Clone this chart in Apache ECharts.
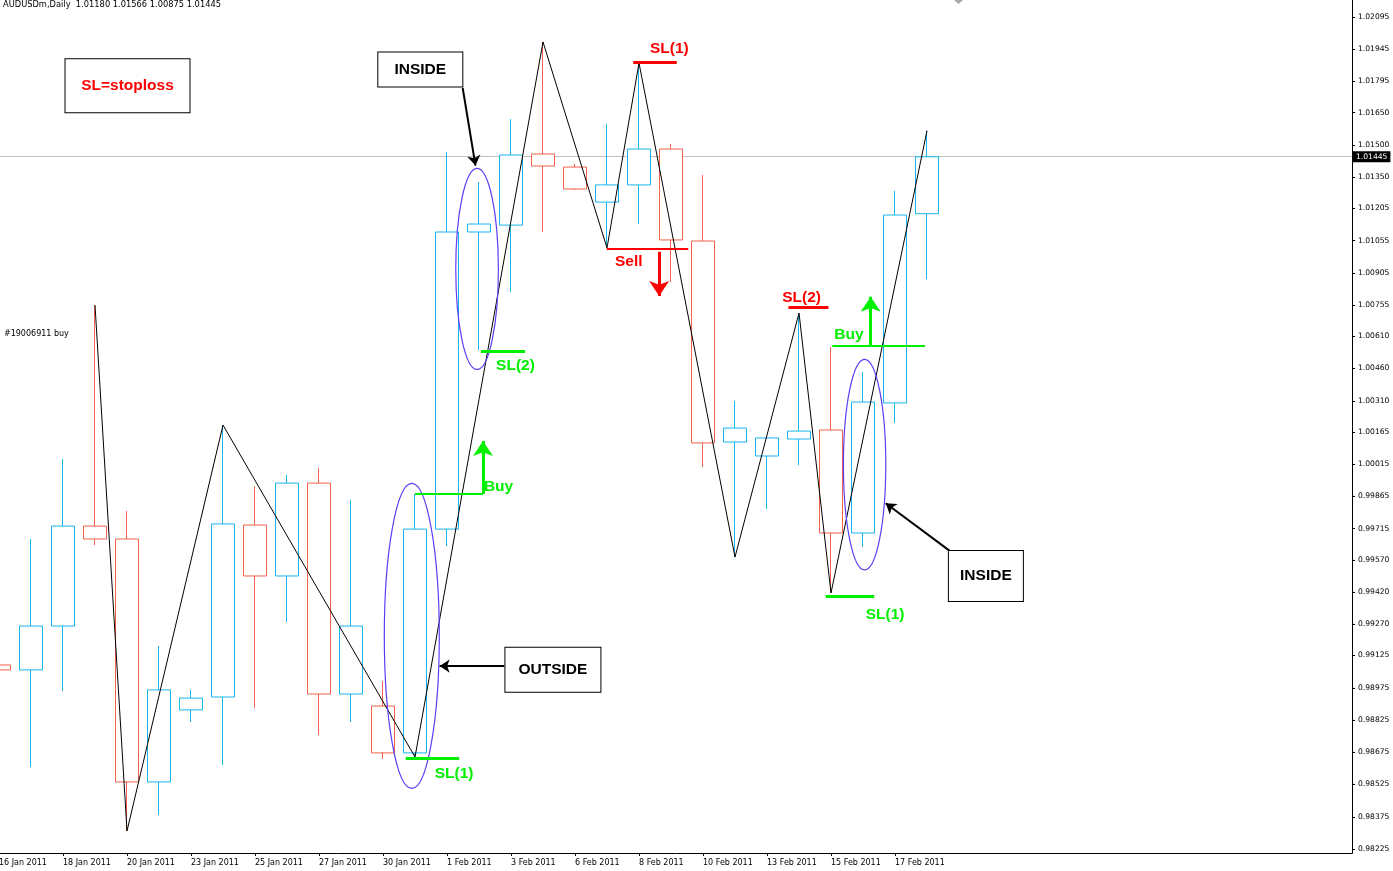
<!DOCTYPE html>
<html>
<head>
<meta charset="utf-8">
<script src="https://cdn.jsdelivr.net/npm/echarts@6/dist/echarts.min.js"></script>
<style>
html, body { margin: 0; padding: 0; background: #fff; }
#main { width: 1393px; height: 871px; }
</style>
</head>
<body>
<div id="main"></div>
<script>
// AUDUSDm daily bars, 16 Jan - 18 Feb 2011
const dates = ['16 Jan 2011', '17 Jan 2011', '18 Jan 2011', '19 Jan 2011', '20 Jan 2011', '21 Jan 2011',
    '23 Jan 2011', '24 Jan 2011', '25 Jan 2011', '26 Jan 2011', '27 Jan 2011', '28 Jan 2011',
    '30 Jan 2011', '31 Jan 2011', '1 Feb 2011', '2 Feb 2011', '3 Feb 2011', '4 Feb 2011',
    '6 Feb 2011', '7 Feb 2011', '8 Feb 2011', '9 Feb 2011', '10 Feb 2011', '11 Feb 2011',
    '13 Feb 2011', '14 Feb 2011', '15 Feb 2011', '16 Feb 2011', '17 Feb 2011', '18 Feb 2011'];
const opens = [0.99081, 0.99058, 0.99262, 0.99727, 0.99667, 0.98537, 0.98872, 0.98932, 0.99732, 0.99495,
    0.99927, 0.98946, 0.98890, 0.98672, 0.99713, 1.01095, 1.01127, 1.01458, 1.01397, 1.01234,
    1.01314, 1.01481, 1.01053, 1.00118, 1.00053, 1.00132, 1.00174, 0.99695, 1.00300, 1.01180];
const highs = [0.99095, 0.99667, 1.00039, 1.00755, 0.99797, 0.99169, 0.98965, 1.00197, 0.99913, 0.99965,
    0.99997, 0.99848, 0.99006, 0.99876, 1.01467, 1.01327, 1.01620, 1.01979, 1.01411, 1.01597,
    1.01881, 1.01504, 1.01360, 1.00309, 1.00140, 1.00718, 1.00560, 1.00444, 1.01286, 1.01566];
const lows = [0.99044, 0.98606, 0.98960, 0.99639, 0.98309, 0.98383, 0.98816, 0.98616, 0.98881, 0.99281,
    0.98755, 0.98816, 0.98644, 0.98653, 0.99634, 1.00546, 1.00816, 1.01095, 1.01290, 1.01021,
    1.01132, 1.00862, 1.00002, 0.99583, 0.99807, 1.00011, 0.99416, 0.99630, 1.00207, 1.00875];
const closes = [0.99058, 0.99262, 0.99727, 0.99667, 0.98537, 0.98965, 0.98927, 0.99737, 0.99495, 0.99927,
    0.98946, 0.99262, 0.98672, 0.99713, 1.01095, 1.01132, 1.01453, 1.01402, 1.01295, 1.01314,
    1.01481, 1.01058, 1.00114, 1.00183, 1.00137, 1.00169, 0.99695, 1.00304, 1.01174, 1.01445];

const priceTicks = ['1.02095', '1.01945', '1.01795', '1.01650', '1.01500', '1.01350', '1.01205', '1.01055',
    '1.00905', '1.00755', '1.00610', '1.00460', '1.00310', '1.00165', '1.00015', '0.99865', '0.99715',
    '0.99570', '0.99420', '0.99270', '0.99125', '0.98975', '0.98825', '0.98675', '0.98525', '0.98375', '0.98225'];
const dateTicks = [0, 2, 4, 6, 8, 10, 12, 14, 16, 18, 20, 22, 24, 26, 28];
const bidPrice = 1.01445;

// zigzag turning bars and whether the turn is at the high or the low
const zigzagBars = [3, 4, 7, 13, 17, 19, 20, 23, 25, 26, 29];
const zigzagSide = ['H', 'L', 'H', 'L', 'H', 'L', 'H', 'L', 'H', 'L', 'H'];

// hand drawn objects, in bar index / price units
const greenLevels = [[15.06, 16.44, 1.00541], [13.0, 15.125, 0.99876], [12.71, 14.38, 0.98645],
    [26.04, 28.94, 1.00568], [25.83, 27.35, 0.99402]];
const redLevels = [[19.82, 21.18, 1.01884], [18.99, 21.54, 1.01017], [24.67, 25.92, 1.00743]];
const greenArrows = [[15.125, 0.99876, 15.125, 1.00123], [27.24, 1.00569, 27.24, 1.00794]];
const redArrows = [[20.63, 1.01003, 20.63, 1.00797]];
const blackArrows = [[14.49, 1.01765, 14.89, 1.01404], [15.79, 0.99076, 13.77, 0.99076],
    [29.70, 0.99613, 27.71, 0.99833]];
const ellipses = [[12.90, 0.99216, 0.859, 0.007093], [14.94, 1.00923, 0.666, 0.004675],
    [27.05, 1.00013, 0.6625, 0.004898]];
const greenTexts = [[16.14, 1.00474, 'SL(2)'], [15.61, 0.99909, 'Buy'], [14.22, 0.98575, 'SL(1)'],
    [26.56, 1.00619, 'Buy'], [27.69, 0.99313, 'SL(1)']];
const redTexts = [[20.95, 1.01946, 'SL(1)'], [19.68, 1.00957, 'Sell'], [25.08, 1.00791, 'SL(2)']];
const boxTexts = [[4.016, 1.01775, 'SL=stoploss'], [13.166, 1.01851, 'INSIDE'],
    [17.31, 0.99059, 'OUTSIDE'], [30.84, 0.99495, 'INSIDE']];
const orderText = [[0.156, 1.00620, '#19006911 buy']];

const UP = '#17b5ee', DOWN = '#f4614a', GREEN = '#00f000', RED = '#ff0000', RING = '#5b3ff5';
const AXIS_FONT = 'DejaVu Sans';
const NOTE_FONT = 'Liberation Sans';
const X_MAX = 42.28125;

let candles = dates.map((d, i) => [i, opens[i], closes[i], lows[i], highs[i]]);
let zigzag = zigzagBars.map((b, i) => [b, zigzagSide[i] === 'H' ? highs[b] : lows[b]]);

let greenLevelWidth = [3, 2, 3, 2, 3];
let redLevelWidth = [3, 2, 3];
let boxStyle = [
    {w: 124, h: 53, color: '#ff0000'},
    {w: 84, h: 34, color: '#000'},
    {w: 95, h: 44, color: '#000'},
    {w: 74, h: 50, color: '#000'}
];

function arrowData(list) {
    return list.map(a => ({coords: [[a[0], a[1]], [a[2], a[3]]]}));
}
function textSeries(list, color, label) {
    return {
        type: 'scatter',
        symbolSize: 0,
        silent: true,
        clip: false,
        z: 10,
        data: list,
        itemStyle: {opacity: 1},
        label: Object.assign({
            show: true,
            position: 'inside',
            formatter: p => (p.data.value || p.data)[2],
            color: color,
            opacity: 1,
            textBorderWidth: 0,
            fontFamily: NOTE_FONT,
            fontWeight: 'bold',
            fontSize: 15.5
        }, label || {})
    };
}

var myChart = echarts.init(document.getElementById('main'));
option = {
    animation: false,
    backgroundColor: '#fff',
    grid: {left: -1, right: 41, top: 0, bottom: 18, containLabel: false, outerBoundsMode: 'none'},
    graphic: [
        {
            type: 'text', left: 3, top: 1,
            style: {text: 'AUDUSDm,Daily  1.01180 1.01566 1.00875 1.01445', fill: '#000', font: '8.3px "DejaVu Sans"'}
        },
        {
            // chart shift marker
            type: 'polygon',
            shape: {points: [[954, 0], [963, 0], [958.5, 4]]},
            style: {fill: '#a8a8a8'}
        }
    ],
    xAxis: {
        type: 'value',
        min: 0,
        max: X_MAX,
        splitLine: {show: false},
        axisLine: {show: true, onZero: false, lineStyle: {color: '#000', width: 1}},
        axisTick: {show: true, length: 3, inside: false, customValues: dateTicks, lineStyle: {color: '#000'}},
        axisLabel: {
            customValues: dateTicks,
            formatter: v => dates[Math.round(v)] || '',
            align: 'left',
            margin: 6,
            color: '#000',
            fontFamily: AXIS_FONT,
            fontSize: 8
        }
    },
    yAxis: {
        type: 'value',
        position: 'right',
        min: 0.982064,
        max: 1.021741,
        scale: true,
        splitLine: {show: false},
        axisLine: {show: true, onZero: false, lineStyle: {color: '#000', width: 1}},
        axisTick: {show: true, length: 3, inside: false, customValues: priceTicks.map(Number), lineStyle: {color: '#000'}},
        axisLabel: {
            customValues: priceTicks.map(Number),
            formatter: v => v.toFixed(5),
            margin: 6,
            color: '#000',
            fontFamily: AXIS_FONT,
            fontSize: 7.6
        }
    },
    series: [
        {
            // bid line
            type: 'lines',
            coordinateSystem: 'cartesian2d',
            z: 1,
            silent: true,
            symbol: ['none', 'none'],
            data: [{coords: [[0, bidPrice], [X_MAX, bidPrice]]}],
            lineStyle: {color: '#c0c0c0', width: 1, opacity: 1}
        },
        {
            type: 'candlestick',
            data: candles,
            encode: {x: 0, y: [1, 2, 3, 4]},
            barWidth: 23,
            clip: true,
            z: 3,
            itemStyle: {
                color: '#fff',
                color0: '#fff',
                borderColor: UP,
                borderColor0: DOWN,
                borderWidth: 1
            }
        },
        {
            type: 'line',
            data: zigzag,
            symbol: 'none',
            z: 5,
            lineStyle: {color: '#000', width: 1}
        },
        {
            type: 'custom',
            z: 6,
            silent: true,
            data: ellipses,
            encode: {x: 0, y: 1},
            renderItem: (params, api) => {
                let c = api.coord([api.value(0), api.value(1)]);
                let s = api.size([api.value(2), api.value(3)]);
                return {
                    type: 'ellipse',
                    shape: {cx: c[0], cy: c[1], rx: s[0], ry: s[1]},
                    style: {fill: 'none', stroke: RING, lineWidth: 1.2}
                };
            }
        },
        {
            type: 'lines',
            coordinateSystem: 'cartesian2d',
            z: 7,
            silent: true,
            symbol: ['none', 'none'],
            data: greenLevels.map((l, i) => ({coords: [[l[0], l[2]], [l[1], l[2]]], lineStyle: {width: greenLevelWidth[i]}})),
            lineStyle: {color: GREEN, opacity: 1}
        },
        {
            type: 'lines',
            coordinateSystem: 'cartesian2d',
            z: 7,
            silent: true,
            symbol: ['none', 'none'],
            data: redLevels.map((l, i) => ({coords: [[l[0], l[2]], [l[1], l[2]]], lineStyle: {width: redLevelWidth[i]}})),
            lineStyle: {color: RED, opacity: 1}
        },
        {
            type: 'lines',
            coordinateSystem: 'cartesian2d',
            z: 7,
            silent: true,
            symbol: ['none', 'arrow'],
            symbolSize: 15,
            data: arrowData(greenArrows),
            lineStyle: {color: GREEN, width: 3, opacity: 1}
        },
        {
            type: 'lines',
            coordinateSystem: 'cartesian2d',
            z: 7,
            silent: true,
            symbol: ['none', 'arrow'],
            symbolSize: 15,
            data: arrowData(redArrows),
            lineStyle: {color: RED, width: 3, opacity: 1}
        },
        {
            type: 'lines',
            coordinateSystem: 'cartesian2d',
            z: 7,
            silent: true,
            symbol: ['none', 'arrow'],
            symbolSize: 10,
            data: arrowData(blackArrows),
            lineStyle: {color: '#000', width: 2, opacity: 1}
        },
        textSeries(greenTexts, GREEN),
        textSeries(redTexts, RED),
        textSeries(boxTexts.map((b, i) => ({
            value: b,
            label: {
                color: boxStyle[i].color,
                width: boxStyle[i].w,
                height: boxStyle[i].h,
                lineHeight: boxStyle[i].h
            }
        })), '#000', {
            align: 'center',
            verticalAlign: 'middle',
            backgroundColor: '#fff',
            borderColor: '#000',
            borderWidth: 1
        }),
        textSeries(orderText, '#000', {
            align: 'left',
            fontFamily: AXIS_FONT,
            fontWeight: 'normal',
            fontSize: 8
        }),
        // bid price tag on the price scale
        textSeries([[X_MAX, bidPrice, bidPrice.toFixed(5)]], '#fff', {
            align: 'left',
            offset: [1, 0],
            backgroundColor: '#000',
            padding: [2, 3, 1, 3],
            fontFamily: AXIS_FONT,
            fontWeight: 'normal',
            fontSize: 7.6
        })
    ]
};
myChart.setOption(option);
</script>
</body>
</html>
